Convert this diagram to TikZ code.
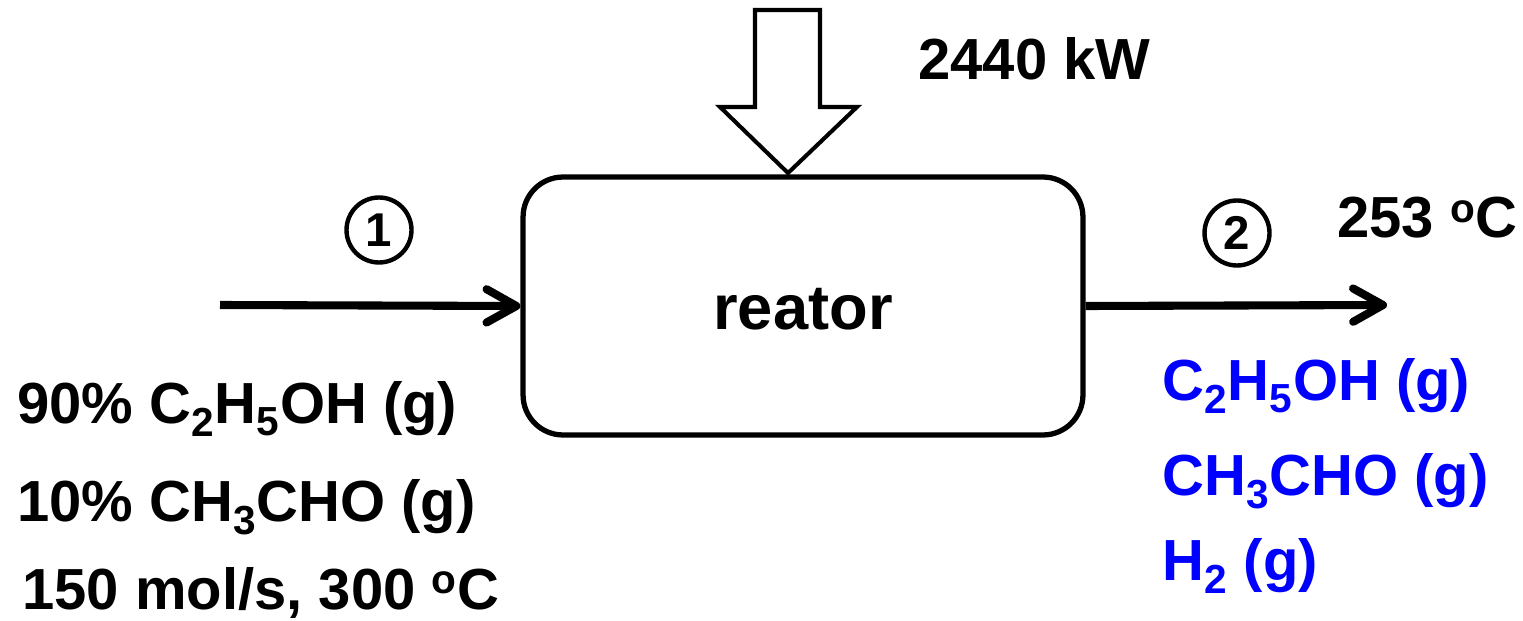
\documentclass[tikz,border=0pt]{standalone}
\usepackage{fontspec}
\setmainfont{Liberation Sans}
\usetikzlibrary{arrows.meta,positioning}

\begin{document}
\begin{tikzpicture}[
  x=0.02cm,y=-0.02cm,
  >={Straight Barb[length=17pt,width=19pt,round]},
  every node/.style={font=\bfseries\fontsize{33}{40}\selectfont,inner sep=0pt},
  unit/.style={draw,line width=3pt,rounded corners=0.8cm,
               minimum width=11.2cm,minimum height=5.16cm,
               font=\bfseries\fontsize{36}{42}\selectfont,
               text height=27pt,text depth=0pt},
  stream/.style={->,line width=4.6pt},
  num/.style={draw,circle,line width=2.5pt,minimum size=1.3cm,
              font=\bfseries\fontsize{27}{30}\selectfont},
  lbl/.style={anchor=base west},
  prodlbl/.style={lbl,text=blue},
  heat/.style={draw,line width=2.3pt,line join=miter}
]
\useasboundingbox (0,0) rectangle (1523,621);

%% reactor and heat input
\node[unit] (reactor) at (803,306) {reator};
\draw[heat] (755,10) -- (820,10) -- (820,107) -- (857,107) -- (788,173)
  -- (720,107) -- (755,107) -- cycle;
\node[lbl] (duty) at (918,80) {2440 kW};

%% streams
\coordinate (feed) at (220,305);
\coordinate (prod) at (1387,305);
\draw[stream] (feed) -- (reactor.west);
\draw[stream] (reactor.east) -- (prod);
\node[num] (s1) at (379,230) {1};
\node[num] (s2) at (1237,233) {2};

%% feed data
\node[lbl] (f1) at (17,423) {90\% C\textsubscript{2}H\textsubscript{5}OH (g)};
\node[lbl] (f2) at (17,521) {10\% CH\textsubscript{3}CHO (g)};
\node[lbl] (f3) at (22,609) {150 mol/s, 300 \textsuperscript{o}C};

%% product data
\node[lbl] (t2) at (1337,238) {253 \textsuperscript{o}C};
\node[prodlbl] (p1) at (1162,400) {C\textsubscript{2}H\textsubscript{5}OH (g)};
\node[prodlbl] (p2) at (1162,495) {CH\textsubscript{3}CHO (g)};
\node[prodlbl] (p3) at (1162,580) {H\textsubscript{2} (g)};

\end{tikzpicture}
\end{document}
